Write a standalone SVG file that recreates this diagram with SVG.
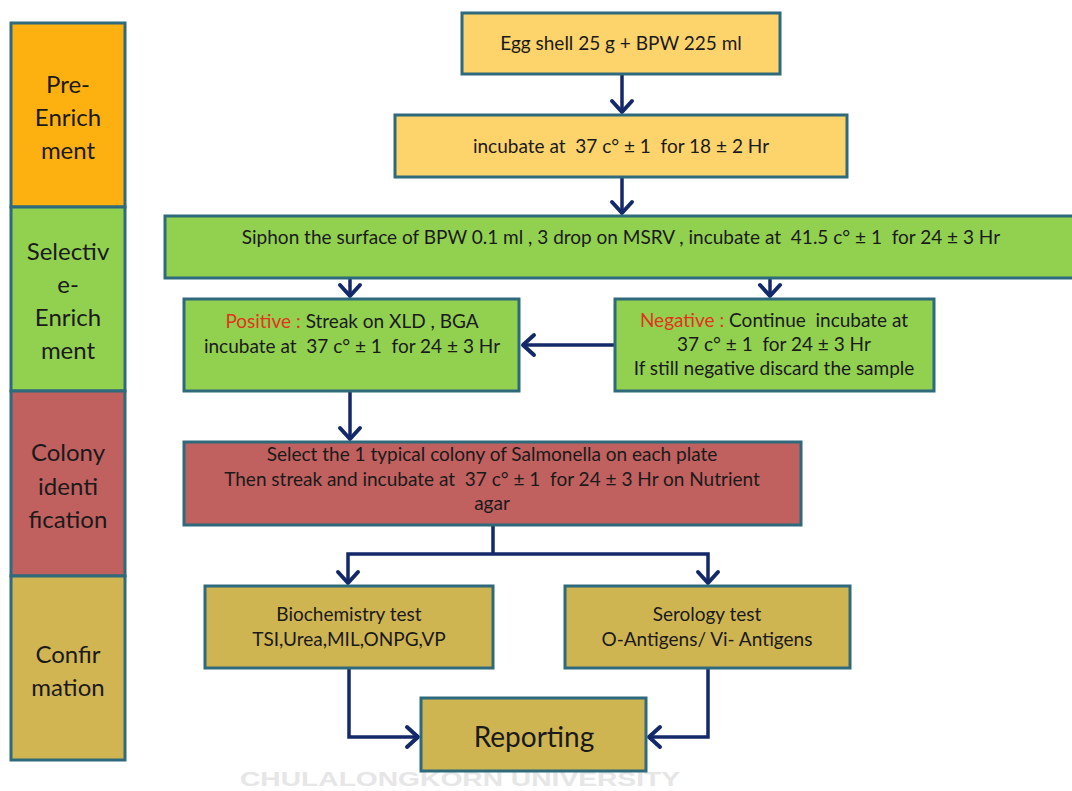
<svg xmlns="http://www.w3.org/2000/svg" width="1072" height="791" viewBox="0 0 1072 791">
<style>
.box{stroke:#2f6a7c;stroke-width:3}
.t{font-family:Lato,"Open Sans","DejaVu Sans",sans-serif;font-size:19px;fill:#1a1a1a;text-anchor:middle}
.side{font-family:Lato,"Open Sans","DejaVu Sans",sans-serif;font-size:24px;fill:#1a1a1a;text-anchor:middle}
.red{fill:#e2341c}
.c{fill:none;stroke:#13296a;stroke-width:3.5}
.y{fill:#fdd36b}.g{fill:#92d050}.r{fill:#c0605f}.o{fill:#cfb552}
</style>
<defs>
<marker id="ah" markerUnits="userSpaceOnUse" viewBox="-14 -14 28 28" markerWidth="28" markerHeight="28" refX="0" refY="0" orient="auto">
<path d="M-11,-10 L0,0 L-11,10" fill="none" stroke="#13296a" stroke-width="4" stroke-linecap="round" stroke-linejoin="round"/>
</marker>
</defs>
<rect width="1072" height="791" fill="#ffffff"/>
<text x="460" y="786" font-family="Liberation Sans,Arial,sans-serif" font-weight="bold" font-size="21" fill="#e6e6e6" text-anchor="middle" textLength="440" lengthAdjust="spacingAndGlyphs">CHULALONGKORN UNIVERSITY</text>
<g id="sidebar">
<g id="stage-pre"><rect class="box" x="11" y="23" width="114" height="184" fill="#fdb111"/>
<text class="side"><tspan x="68" y="93">Pre-</tspan><tspan x="68" y="126">Enrich</tspan><tspan x="68" y="159">ment</tspan></text></g>
<g id="stage-selective"><rect class="box" x="11" y="207" width="114" height="184" fill="#92d050"/>
<text class="side"><tspan x="68" y="260">Selectiv</tspan><tspan x="68" y="293">e-</tspan><tspan x="68" y="326">Enrich</tspan><tspan x="68" y="359">ment</tspan></text></g>
<g id="stage-colony"><rect class="box" x="11" y="391" width="114" height="185" fill="#c0605f"/>
<text class="side"><tspan x="68" y="461">Colony</tspan><tspan x="68" y="495">identi</tspan><tspan x="68" y="528">fication</tspan></text></g>
<g id="stage-confirm"><rect class="box" x="11" y="576" width="114" height="184" fill="#d1b552"/>
<text class="side"><tspan x="68" y="663">Confir</tspan><tspan x="68" y="696">mation</tspan></text></g>
</g>
<g id="connectors">
<line class="c" x1="622" y1="74" x2="622" y2="112" marker-end="url(#ah)"/>
<line class="c" x1="622" y1="177" x2="622" y2="213" marker-end="url(#ah)"/>
<line class="c" x1="350" y1="278" x2="350" y2="296" marker-end="url(#ah)"/>
<line class="c" x1="770" y1="278" x2="770" y2="296" marker-end="url(#ah)"/>
<line class="c" x1="615" y1="345" x2="523" y2="345" marker-end="url(#ah)"/>
<line class="c" x1="350" y1="391" x2="350" y2="439" marker-end="url(#ah)"/>
<path class="c" d="M493,525 V554"/>
<path class="c" d="M493,554 H348 V583" marker-end="url(#ah)"/>
<path class="c" d="M493,554 H708 V583" marker-end="url(#ah)"/>
<path class="c" d="M349,668 V737 H418" marker-end="url(#ah)"/>
<path class="c" d="M708,668 V737 H649" marker-end="url(#ah)"/>
</g>
<g id="n-egg"><rect class="box y" x="462" y="13" width="318" height="61"/>
<text class="t" x="621" y="50">Egg shell 25 g + BPW 225 ml</text></g>
<g id="n-incubate"><rect class="box y" x="395" y="115" width="452" height="62"/>
<text class="t" x="621" y="153" xml:space="preserve">incubate at  37 c° ± 1  for 18 ± 2 Hr</text></g>
<g id="n-siphon"><rect class="box g" x="165" y="216" width="910" height="62"/>
<text class="t" x="621" y="244" xml:space="preserve">Siphon the surface of BPW 0.1 ml , 3 drop on MSRV , incubate at  41.5 c° ± 1  for 24 ± 3 Hr</text></g>
<g id="n-positive"><rect class="box g" x="184" y="299" width="335" height="92"/>
<text class="t" x="352" y="328"><tspan class="red">Positive : </tspan>Streak on XLD , BGA</text>
<text class="t" x="352" y="353" xml:space="preserve">incubate at  37 c° ± 1  for 24 ± 3 Hr</text></g>
<g id="n-negative"><rect class="box g" x="615" y="299" width="319" height="92"/>
<text class="t" x="774" y="327" xml:space="preserve"><tspan class="red">Negative : </tspan>Continue  incubate at</text>
<text class="t" x="774" y="351" xml:space="preserve">37 c° ± 1  for 24 ± 3 Hr</text>
<text class="t" x="774" y="375">If still negative discard the sample</text></g>
<g id="n-colony"><rect class="box r" x="184" y="442" width="617" height="83"/>
<text class="t" x="492" y="461">Select the 1 typical colony of Salmonella on each plate</text>
<text class="t" x="492" y="486" xml:space="preserve">Then streak and incubate at  37 c° ± 1  for 24 ± 3 Hr on Nutrient</text>
<text class="t" x="492" y="510">agar</text></g>
<g id="n-biochem"><rect class="box o" x="205" y="586" width="288" height="82"/>
<text class="t" x="349" y="621">Biochemistry test</text>
<text class="t" x="349" y="646">TSI,Urea,MIL,ONPG,VP</text></g>
<g id="n-serology"><rect class="box o" x="565" y="586" width="285" height="82"/>
<text class="t" x="707" y="621">Serology test</text>
<text class="t" x="707" y="646">O-Antigens/ Vi- Antigens</text></g>
<g id="n-report"><rect class="box o" x="421" y="698" width="225" height="73"/>
<text class="t" x="534" y="747" style="font-size:28px">Reporting</text></g>
</svg>
